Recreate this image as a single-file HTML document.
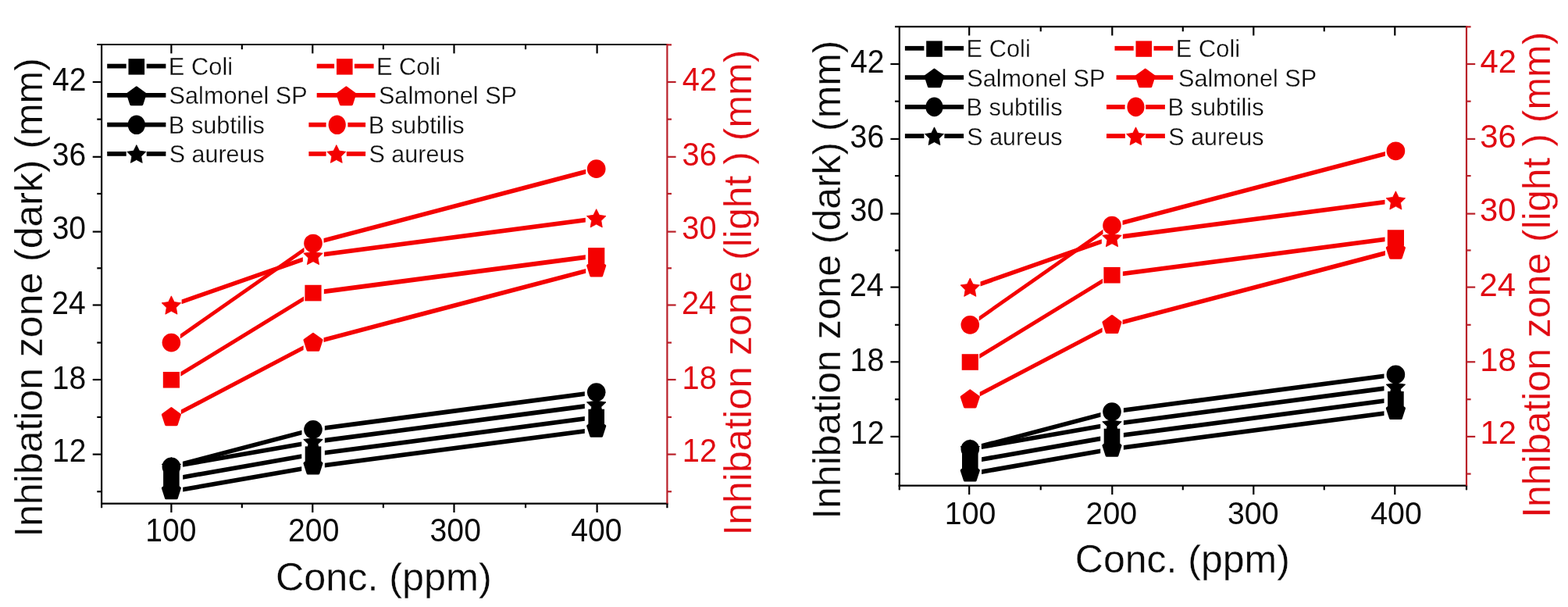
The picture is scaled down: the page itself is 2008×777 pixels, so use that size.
<!DOCTYPE html>
<html lang="en">
<head>
<meta charset="utf-8">
<title>Inhibation zone vs Conc. (ppm)</title>
<style>
html,body{margin:0;padding:0;background:#fff;}
body{width:2008px;height:777px;overflow:hidden;}
svg{display:block;font-family:"Liberation Sans",sans-serif;}
text{stroke:#fff;stroke-width:0.3px;paint-order:fill stroke;}
text.t{stroke:none;}
</style>
</head>
<body>
<svg width="2008" height="777" viewBox="0 0 2008 777">
<rect width="2008" height="777" fill="#ffffff"/>
<g>
<g stroke="#000000" stroke-width="2.2" fill="none">
<line x1="130.1" y1="55.9" x2="130.1" y2="645.7"/>
<line x1="124.3" y1="57" x2="854.4" y2="57"/>
<line x1="129" y1="644.6" x2="855.5" y2="644.6"/>
<line x1="118.7" y1="581.6" x2="130.1" y2="581.6"/>
<line x1="118.7" y1="486" x2="130.1" y2="486"/>
<line x1="118.7" y1="390.5" x2="130.1" y2="390.5"/>
<line x1="118.7" y1="296.6" x2="130.1" y2="296.6"/>
<line x1="118.7" y1="200.8" x2="130.1" y2="200.8"/>
<line x1="118.7" y1="105" x2="130.1" y2="105"/>
<line x1="124.3" y1="629.26" x2="130.1" y2="629.26"/>
<line x1="124.3" y1="533.94" x2="130.1" y2="533.94"/>
<line x1="124.3" y1="438.62" x2="130.1" y2="438.62"/>
<line x1="124.3" y1="343.3" x2="130.1" y2="343.3"/>
<line x1="124.3" y1="247.98" x2="130.1" y2="247.98"/>
<line x1="124.3" y1="152.66" x2="130.1" y2="152.66"/>
<line x1="219.4" y1="644.6" x2="219.4" y2="656"/>
<line x1="219.4" y1="57" x2="219.4" y2="68.4"/>
<line x1="400.3" y1="644.6" x2="400.3" y2="656"/>
<line x1="400.3" y1="57" x2="400.3" y2="68.4"/>
<line x1="581.5" y1="644.6" x2="581.5" y2="656"/>
<line x1="581.5" y1="57" x2="581.5" y2="68.4"/>
<line x1="764.6" y1="644.6" x2="764.6" y2="656"/>
<line x1="764.6" y1="57" x2="764.6" y2="68.4"/>
<line x1="130.1" y1="644.6" x2="130.1" y2="650.2"/>
<line x1="309.85" y1="644.6" x2="309.85" y2="650.2"/>
<line x1="490.9" y1="644.6" x2="490.9" y2="650.2"/>
<line x1="673.05" y1="644.6" x2="673.05" y2="650.2"/>
<line x1="854.4" y1="644.6" x2="854.4" y2="650.2"/>
<line x1="309.85" y1="57" x2="309.85" y2="63.2"/>
<line x1="490.9" y1="57" x2="490.9" y2="63.2"/>
<line x1="673.05" y1="57" x2="673.05" y2="63.2"/>
</g>
<g stroke="#b92029" stroke-width="2.2" fill="none">
<line x1="854.4" y1="55.9" x2="854.4" y2="644.6"/>
<line x1="854.4" y1="581.6" x2="865.6" y2="581.6"/>
<line x1="854.4" y1="486" x2="865.6" y2="486"/>
<line x1="854.4" y1="390.5" x2="865.6" y2="390.5"/>
<line x1="854.4" y1="296.6" x2="865.6" y2="296.6"/>
<line x1="854.4" y1="200.8" x2="865.6" y2="200.8"/>
<line x1="854.4" y1="105" x2="865.6" y2="105"/>
<line x1="854.4" y1="629.26" x2="860" y2="629.26"/>
<line x1="854.4" y1="533.94" x2="860" y2="533.94"/>
<line x1="854.4" y1="438.62" x2="860" y2="438.62"/>
<line x1="854.4" y1="343.3" x2="860" y2="343.3"/>
<line x1="854.4" y1="247.98" x2="860" y2="247.98"/>
<line x1="854.4" y1="152.66" x2="860" y2="152.66"/>
<line x1="854.4" y1="57.34" x2="860" y2="57.34"/>
</g>
<text class="t" transform="translate(67.12,591.2) scale(0.9361,1)" font-size="41.6" fill="#0a0a0a">12</text>
<text class="t" transform="translate(873.8,591.2) scale(0.9569,1)" font-size="41.6" fill="#e00a12">12</text>
<text class="t" transform="translate(66.83,497.7) scale(0.9361,1)" font-size="41.6" fill="#0a0a0a">18</text>
<text class="t" transform="translate(873.51,497.7) scale(0.9569,1)" font-size="41.6" fill="#e00a12">18</text>
<text class="t" transform="translate(66.25,401.7) scale(0.9361,1)" font-size="41.6" fill="#0a0a0a">24</text>
<text class="t" transform="translate(872.91,401.7) scale(0.9569,1)" font-size="41.6" fill="#e00a12">24</text>
<text class="t" transform="translate(66.64,305.5) scale(0.9361,1)" font-size="41.6" fill="#0a0a0a">30</text>
<text class="t" transform="translate(873.31,305.5) scale(0.9569,1)" font-size="41.6" fill="#e00a12">30</text>
<text class="t" transform="translate(66.83,212.3) scale(0.9361,1)" font-size="41.6" fill="#0a0a0a">36</text>
<text class="t" transform="translate(873.51,212.3) scale(0.9569,1)" font-size="41.6" fill="#e00a12">36</text>
<text class="t" transform="translate(67.12,116.2) scale(0.9361,1)" font-size="41.6" fill="#0a0a0a">42</text>
<text class="t" transform="translate(873.8,116.2) scale(0.9569,1)" font-size="41.6" fill="#e00a12">42</text>
<text class="t" transform="translate(186.31,693.4) scale(0.9407,1)" font-size="41.6" fill="#0a0a0a">100</text>
<text class="t" transform="translate(369.11,693.4) scale(0.9407,1)" font-size="41.6" fill="#0a0a0a">200</text>
<text class="t" transform="translate(550.61,693.4) scale(0.9407,1)" font-size="41.6" fill="#0a0a0a">300</text>
<text class="t" transform="translate(731.31,693.4) scale(0.9407,1)" font-size="41.6" fill="#0a0a0a">400</text>
<text transform="translate(352.88,755.9) scale(1.0071,1)" font-size="50" fill="#0a0a0a">Conc. (ppm)</text>
<text transform="translate(54,687.62) rotate(-90) scale(0.9992,1)" font-size="50" fill="#0a0a0a">Inhibation zone (dark) (mm)</text>
<text transform="translate(961.5,685.62) rotate(-90) scale(0.9994,1)" font-size="50" fill="#e00a12">Inhibation zone (light ) (mm)</text>
<polygon points="234.18,607.89 386.22,581.29 386.22,587.09 234.18,613.69" fill="#000000"/>
<polygon points="415.87,576.75 748.83,532.99 748.83,538.79 415.87,582.55" fill="#000000"/>
<polygon points="234.18,623.77 386.22,597.17 386.22,602.97 234.18,629.57" fill="#000000"/>
<polygon points="415.87,592.63 748.83,548.88 748.83,554.68 415.87,598.43" fill="#000000"/>
<polygon points="233.91,590.78 386.49,550.73 386.49,556.53 233.91,596.58" fill="#000000"/>
<polygon points="415.87,544.97 748.83,501.22 748.83,507.02 415.87,550.77" fill="#000000"/>
<polygon points="234.18,592 386.22,565.4 386.22,571.2 234.18,597.8" fill="#000000"/>
<polygon points="415.87,560.86 748.83,517.11 748.83,522.91 415.87,566.66" fill="#000000"/>
<rect x="209.1" y="603.17" width="20.6" height="20.4" fill="#000000"/>
<rect x="390.7" y="571.4" width="20.6" height="20.4" fill="#000000"/>
<rect x="753.4" y="523.74" width="20.6" height="20.4" fill="#000000"/>
<polygon points="219.4,616.86 230.34,624.81 226.16,637.66 212.64,637.66 208.46,624.81" fill="#000000" stroke="#000000" stroke-width="3.2" stroke-linejoin="round"/>
<polygon points="401,585.09 411.94,593.03 407.76,605.89 394.24,605.89 390.06,593.03" fill="#000000" stroke="#000000" stroke-width="3.2" stroke-linejoin="round"/>
<polygon points="763.7,537.43 774.64,545.37 770.46,558.23 756.94,558.23 752.76,545.37" fill="#000000" stroke="#000000" stroke-width="3.2" stroke-linejoin="round"/>
<ellipse cx="219.4" cy="597.49" rx="11.8" ry="11.9" fill="#000000"/>
<ellipse cx="401" cy="549.83" rx="11.8" ry="11.9" fill="#000000"/>
<ellipse cx="763.7" cy="502.17" rx="11.8" ry="11.9" fill="#000000"/>
<polygon points="219.4,585.39 223.19,593.07 231.67,594.3 225.53,600.28 226.98,608.72 219.4,604.74 211.82,608.72 213.27,600.28 207.13,594.3 215.61,593.07" fill="#000000" stroke="#000000" stroke-width="0.8" stroke-linejoin="round"/>
<polygon points="401,553.61 404.79,561.3 413.27,562.53 407.13,568.51 408.58,576.95 401,572.96 393.42,576.95 394.87,568.51 388.73,562.53 397.21,561.3" fill="#000000" stroke="#000000" stroke-width="0.8" stroke-linejoin="round"/>
<polygon points="763.7,505.95 767.49,513.64 775.97,514.87 769.83,520.85 771.28,529.29 763.7,525.3 756.12,529.29 757.57,520.85 751.43,514.87 759.91,513.64" fill="#000000" stroke="#000000" stroke-width="0.8" stroke-linejoin="round"/>
<polygon points="231.34,476.07 389.06,379.48 389.06,385.28 231.34,481.87" fill="#f40000"/>
<polygon points="414.88,370.35 749.82,326.34 749.82,332.14 414.88,376.15" fill="#f40000"/>
<polygon points="231.8,524.53 388.6,442.23 388.6,448.03 231.8,530.33" fill="#f40000"/>
<polygon points="414.54,432.16 750.16,343.96 750.16,349.76 414.54,437.96" fill="#f40000"/>
<polygon points="230.87,427.69 389.53,316.65 389.53,322.45 230.87,433.49" fill="#f40000"/>
<polygon points="414.54,305.07 750.16,216.87 750.16,222.67 414.54,310.87" fill="#f40000"/>
<polygon points="232.61,383.44 387.79,329.14 387.79,334.94 232.61,389.24" fill="#f40000"/>
<polygon points="414.88,322.69 749.82,278.68 749.82,284.48 414.88,328.49" fill="#f40000"/>
<rect x="208.8" y="475.98" width="21.2" height="20.6" fill="#f40000"/>
<rect x="390.4" y="364.77" width="21.2" height="20.6" fill="#f40000"/>
<rect x="753.1" y="317.11" width="21.2" height="20.6" fill="#f40000"/>
<polygon points="219.4,522.74 230.34,530.69 226.16,543.54 212.64,543.54 208.46,530.69" fill="#f40000" stroke="#f40000" stroke-width="3.2" stroke-linejoin="round"/>
<polygon points="401,427.42 411.94,435.37 407.76,448.22 394.24,448.22 390.06,435.37" fill="#f40000" stroke="#f40000" stroke-width="3.2" stroke-linejoin="round"/>
<polygon points="763.7,332.1 774.64,340.05 770.46,352.9 756.94,352.9 752.76,340.05" fill="#f40000" stroke="#f40000" stroke-width="3.2" stroke-linejoin="round"/>
<ellipse cx="219.4" cy="438.62" rx="11.8" ry="11.9" fill="#f40000"/>
<ellipse cx="401" cy="311.53" rx="11.8" ry="11.9" fill="#f40000"/>
<ellipse cx="763.7" cy="216.21" rx="11.8" ry="11.9" fill="#f40000"/>
<polygon points="219.4,378.86 223.19,386.54 231.67,387.77 225.53,393.75 226.98,402.2 219.4,398.21 211.82,402.2 213.27,393.75 207.13,387.77 215.61,386.54" fill="#f40000" stroke="#f40000" stroke-width="0.8" stroke-linejoin="round"/>
<polygon points="401,315.31 404.79,323 413.27,324.23 407.13,330.21 408.58,338.65 401,334.66 393.42,338.65 394.87,330.21 388.73,324.23 397.21,323" fill="#f40000" stroke="#f40000" stroke-width="0.8" stroke-linejoin="round"/>
<polygon points="763.7,267.65 767.49,275.34 775.97,276.57 769.83,282.55 771.28,290.99 763.7,287 756.12,290.99 757.57,282.55 751.43,276.57 759.91,275.34" fill="#f40000" stroke="#f40000" stroke-width="0.8" stroke-linejoin="round"/>
<line x1="137.2" y1="84.6" x2="161.7" y2="84.6" stroke="#000000" stroke-width="5.8"/>
<line x1="187.7" y1="84.6" x2="212.4" y2="84.6" stroke="#000000" stroke-width="5.8"/>
<rect x="164.5" y="75.2" width="20.6" height="20.4" fill="#000000"/>
<text transform="translate(215.86,95.5) scale(0.9573,1)" font-size="32.2" fill="#0a0a0a">E Coli</text>
<line x1="137.2" y1="121.9" x2="212.4" y2="121.9" stroke="#000000" stroke-width="5.8"/>
<polygon points="174.8,112 186.12,120.22 181.79,133.53 167.81,133.53 163.48,120.22" fill="#000000" stroke="#000000" stroke-width="3.2" stroke-linejoin="round"/>
<text transform="translate(216.62,133.3) scale(0.9516,1)" font-size="32.2" fill="#0a0a0a">Salmonel SP</text>
<line x1="137.2" y1="159.7" x2="212.4" y2="159.7" stroke="#000000" stroke-width="5.8"/>
<ellipse cx="174.8" cy="159.7" rx="11.1" ry="12.3" fill="#000000"/>
<text transform="translate(215.86,170.7) scale(0.9545,1)" font-size="32.2" fill="#0a0a0a">B subtilis</text>
<line x1="137.2" y1="196.9" x2="161.7" y2="196.9" stroke="#000000" stroke-width="5.8"/>
<line x1="187.7" y1="196.9" x2="212.4" y2="196.9" stroke="#000000" stroke-width="5.8"/>
<polygon points="174.8,185.6 178.5,193.1 186.78,194.31 180.79,200.15 182.21,208.39 174.8,204.5 167.39,208.39 168.81,200.15 162.82,194.31 171.1,193.1" fill="#000000" stroke="#000000" stroke-width="0.8" stroke-linejoin="round"/>
<text transform="translate(216.63,208.3) scale(0.9477,1)" font-size="32.2" fill="#0a0a0a">S aureus</text>
<line x1="405.7" y1="84.6" x2="428.1" y2="84.6" stroke="#f40000" stroke-width="5.8"/>
<line x1="453.9" y1="84.6" x2="478.6" y2="84.6" stroke="#f40000" stroke-width="5.8"/>
<rect x="431" y="75.2" width="20.6" height="20.4" fill="#f40000"/>
<text transform="translate(481.96,95.5) scale(0.9573,1)" font-size="32.2" fill="#0a0a0a">E Coli</text>
<line x1="405.7" y1="121.9" x2="480.6" y2="121.9" stroke="#f40000" stroke-width="5.8"/>
<polygon points="443.4,112 454.72,120.22 450.39,133.53 436.41,133.53 432.08,120.22" fill="#f40000" stroke="#f40000" stroke-width="3.2" stroke-linejoin="round"/>
<text transform="translate(484.92,133.3) scale(0.9516,1)" font-size="32.2" fill="#0a0a0a">Salmonel SP</text>
<line x1="395.4" y1="159.7" x2="417.6" y2="159.7" stroke="#f40000" stroke-width="5.8"/>
<line x1="445.4" y1="159.7" x2="468.1" y2="159.7" stroke="#f40000" stroke-width="5.8"/>
<ellipse cx="431.7" cy="159.7" rx="11.1" ry="12.3" fill="#f40000"/>
<text transform="translate(471.66,170.7) scale(0.9545,1)" font-size="32.2" fill="#0a0a0a">B subtilis</text>
<line x1="395.4" y1="196.9" x2="417.6" y2="196.9" stroke="#f40000" stroke-width="5.8"/>
<line x1="443.8" y1="196.9" x2="468.1" y2="196.9" stroke="#f40000" stroke-width="5.8"/>
<polygon points="430.8,185.6 434.5,193.1 442.78,194.31 436.79,200.15 438.21,208.39 430.8,204.5 423.39,208.39 424.81,200.15 418.82,194.31 427.1,193.1" fill="#f40000" stroke="#f40000" stroke-width="0.8" stroke-linejoin="round"/>
<text transform="translate(472.53,208.3) scale(0.9477,1)" font-size="32.2" fill="#0a0a0a">S aureus</text>
</g>
<g>
<g stroke="#000000" stroke-width="2.2" fill="none">
<line x1="1151.8" y1="33" x2="1151.8" y2="622.8"/>
<line x1="1146" y1="34.1" x2="1878" y2="34.1"/>
<line x1="1150.7" y1="621.7" x2="1879.1" y2="621.7"/>
<line x1="1140.4" y1="558.9" x2="1151.8" y2="558.9"/>
<line x1="1140.4" y1="463.3" x2="1151.8" y2="463.3"/>
<line x1="1140.4" y1="367.6" x2="1151.8" y2="367.6"/>
<line x1="1140.4" y1="273.6" x2="1151.8" y2="273.6"/>
<line x1="1140.4" y1="177.9" x2="1151.8" y2="177.9"/>
<line x1="1140.4" y1="82" x2="1151.8" y2="82"/>
<line x1="1146" y1="606.59" x2="1151.8" y2="606.59"/>
<line x1="1146" y1="511.21" x2="1151.8" y2="511.21"/>
<line x1="1146" y1="415.83" x2="1151.8" y2="415.83"/>
<line x1="1146" y1="320.45" x2="1151.8" y2="320.45"/>
<line x1="1146" y1="225.07" x2="1151.8" y2="225.07"/>
<line x1="1146" y1="129.69" x2="1151.8" y2="129.69"/>
<line x1="1241.2" y1="621.7" x2="1241.2" y2="633.1"/>
<line x1="1241.2" y1="34.1" x2="1241.2" y2="45.5"/>
<line x1="1424.3" y1="621.7" x2="1424.3" y2="633.1"/>
<line x1="1424.3" y1="34.1" x2="1424.3" y2="45.5"/>
<line x1="1605.3" y1="621.7" x2="1605.3" y2="633.1"/>
<line x1="1605.3" y1="34.1" x2="1605.3" y2="45.5"/>
<line x1="1786.3" y1="621.7" x2="1786.3" y2="633.1"/>
<line x1="1786.3" y1="34.1" x2="1786.3" y2="45.5"/>
<line x1="1151.8" y1="621.7" x2="1151.8" y2="627.3"/>
<line x1="1332.75" y1="621.7" x2="1332.75" y2="627.3"/>
<line x1="1514.8" y1="621.7" x2="1514.8" y2="627.3"/>
<line x1="1695.8" y1="621.7" x2="1695.8" y2="627.3"/>
<line x1="1878" y1="621.7" x2="1878" y2="627.3"/>
<line x1="1332.75" y1="34.1" x2="1332.75" y2="40.3"/>
<line x1="1514.8" y1="34.1" x2="1514.8" y2="40.3"/>
<line x1="1695.8" y1="34.1" x2="1695.8" y2="40.3"/>
</g>
<g stroke="#b92029" stroke-width="2.2" fill="none">
<line x1="1878" y1="33" x2="1878" y2="621.7"/>
<line x1="1878" y1="558.9" x2="1889.2" y2="558.9"/>
<line x1="1878" y1="463.3" x2="1889.2" y2="463.3"/>
<line x1="1878" y1="367.6" x2="1889.2" y2="367.6"/>
<line x1="1878" y1="273.6" x2="1889.2" y2="273.6"/>
<line x1="1878" y1="177.9" x2="1889.2" y2="177.9"/>
<line x1="1878" y1="82" x2="1889.2" y2="82"/>
<line x1="1878" y1="606.59" x2="1883.6" y2="606.59"/>
<line x1="1878" y1="511.21" x2="1883.6" y2="511.21"/>
<line x1="1878" y1="415.83" x2="1883.6" y2="415.83"/>
<line x1="1878" y1="320.45" x2="1883.6" y2="320.45"/>
<line x1="1878" y1="225.07" x2="1883.6" y2="225.07"/>
<line x1="1878" y1="129.69" x2="1883.6" y2="129.69"/>
<line x1="1878" y1="34.31" x2="1883.6" y2="34.31"/>
</g>
<text class="t" transform="translate(1088.92,568.3) scale(0.9430,1)" font-size="41.6" fill="#0a0a0a">12</text>
<text class="t" transform="translate(1895.46,568.3) scale(1.0056,1)" font-size="41.6" fill="#e00a12">12</text>
<text class="t" transform="translate(1088.62,474.7) scale(0.9430,1)" font-size="41.6" fill="#0a0a0a">18</text>
<text class="t" transform="translate(1895.15,474.7) scale(1.0056,1)" font-size="41.6" fill="#e00a12">18</text>
<text class="t" transform="translate(1088.03,378.8) scale(0.9430,1)" font-size="41.6" fill="#0a0a0a">24</text>
<text class="t" transform="translate(1894.52,378.8) scale(1.0056,1)" font-size="41.6" fill="#e00a12">24</text>
<text class="t" transform="translate(1088.43,283.2) scale(0.9430,1)" font-size="41.6" fill="#0a0a0a">30</text>
<text class="t" transform="translate(1894.94,283.2) scale(1.0056,1)" font-size="41.6" fill="#e00a12">30</text>
<text class="t" transform="translate(1088.62,189) scale(0.9430,1)" font-size="41.6" fill="#0a0a0a">36</text>
<text class="t" transform="translate(1895.15,189) scale(1.0056,1)" font-size="41.6" fill="#e00a12">36</text>
<text class="t" transform="translate(1088.92,93.4) scale(0.9430,1)" font-size="41.6" fill="#0a0a0a">42</text>
<text class="t" transform="translate(1895.46,93.4) scale(1.0056,1)" font-size="41.6" fill="#e00a12">42</text>
<text class="t" transform="translate(1209.8,670.6) scale(0.9453,1)" font-size="41.6" fill="#0a0a0a">100</text>
<text class="t" transform="translate(1390.6,670.6) scale(0.9453,1)" font-size="41.6" fill="#0a0a0a">200</text>
<text class="t" transform="translate(1571.9,670.6) scale(0.9453,1)" font-size="41.6" fill="#0a0a0a">300</text>
<text class="t" transform="translate(1755.2,670.6) scale(0.9453,1)" font-size="41.6" fill="#0a0a0a">400</text>
<text transform="translate(1376.8,733.2) scale(1.0000,1)" font-size="50" fill="#0a0a0a">Conc. (ppm)</text>
<text transform="translate(1075.8,664.62) rotate(-90) scale(0.9985,1)" font-size="50" fill="#0a0a0a">Inhibation zone (dark) (mm)</text>
<text transform="translate(1985,662.82) rotate(-90) scale(0.9997,1)" font-size="50" fill="#e00a12">Inhibation zone (light ) (mm)</text>
<polygon points="1257.08,585.21 1409.22,558.59 1409.22,564.39 1257.08,591.01" fill="#000000"/>
<polygon points="1438.87,554.05 1772.53,510.26 1772.53,516.06 1438.87,559.85" fill="#000000"/>
<polygon points="1257.08,601.1 1409.22,574.48 1409.22,580.28 1257.08,606.9" fill="#000000"/>
<polygon points="1438.87,569.94 1772.53,526.16 1772.53,531.96 1438.87,575.74" fill="#000000"/>
<polygon points="1256.81,568.09 1409.49,528.01 1409.49,533.81 1256.81,573.89" fill="#000000"/>
<polygon points="1438.87,522.25 1772.53,478.47 1772.53,484.27 1438.87,528.05" fill="#000000"/>
<polygon points="1257.08,569.31 1409.22,542.69 1409.22,548.49 1257.08,575.11" fill="#000000"/>
<polygon points="1438.87,538.15 1772.53,494.37 1772.53,500.17 1438.87,543.95" fill="#000000"/>
<rect x="1232" y="580.49" width="20.6" height="20.4" fill="#000000"/>
<rect x="1413.7" y="548.7" width="20.6" height="20.4" fill="#000000"/>
<rect x="1777.1" y="501.01" width="20.6" height="20.4" fill="#000000"/>
<polygon points="1242.3,594.19 1253.24,602.14 1249.06,614.99 1235.54,614.99 1231.36,602.14" fill="#000000" stroke="#000000" stroke-width="3.2" stroke-linejoin="round"/>
<polygon points="1424,562.4 1434.94,570.34 1430.76,583.2 1417.24,583.2 1413.06,570.34" fill="#000000" stroke="#000000" stroke-width="3.2" stroke-linejoin="round"/>
<polygon points="1787.4,514.71 1798.34,522.65 1794.16,535.51 1780.64,535.51 1776.46,522.65" fill="#000000" stroke="#000000" stroke-width="3.2" stroke-linejoin="round"/>
<ellipse cx="1242.3" cy="574.8" rx="11.8" ry="11.9" fill="#000000"/>
<ellipse cx="1424" cy="527.11" rx="11.8" ry="11.9" fill="#000000"/>
<ellipse cx="1787.4" cy="479.42" rx="11.8" ry="11.9" fill="#000000"/>
<polygon points="1242.3,562.7 1246.09,570.38 1254.57,571.61 1248.43,577.59 1249.88,586.03 1242.3,582.05 1234.72,586.03 1236.17,577.59 1230.03,571.61 1238.51,570.38" fill="#000000" stroke="#000000" stroke-width="0.8" stroke-linejoin="round"/>
<polygon points="1424,530.9 1427.79,538.59 1436.27,539.82 1430.13,545.8 1431.58,554.24 1424,550.25 1416.42,554.24 1417.87,545.8 1411.73,539.82 1420.21,538.59" fill="#000000" stroke="#000000" stroke-width="0.8" stroke-linejoin="round"/>
<polygon points="1787.4,483.21 1791.19,490.9 1799.67,492.13 1793.53,498.11 1794.98,506.55 1787.4,502.56 1779.82,506.55 1781.27,498.11 1775.13,492.13 1783.61,490.9" fill="#000000" stroke="#000000" stroke-width="0.8" stroke-linejoin="round"/>
<polygon points="1254.24,453.31 1412.06,356.66 1412.06,362.46 1254.24,459.11" fill="#f40000"/>
<polygon points="1437.88,347.52 1773.52,303.47 1773.52,309.27 1437.88,353.32" fill="#f40000"/>
<polygon points="1254.7,501.8 1411.6,419.44 1411.6,425.24 1254.7,507.6" fill="#f40000"/>
<polygon points="1437.54,409.38 1773.86,321.1 1773.86,326.9 1437.54,415.18" fill="#f40000"/>
<polygon points="1253.77,404.9 1412.53,293.78 1412.53,299.58 1253.77,410.7" fill="#f40000"/>
<polygon points="1437.54,282.2 1773.86,193.93 1773.86,199.73 1437.54,288" fill="#f40000"/>
<polygon points="1255.51,360.62 1410.79,306.28 1410.79,312.08 1255.51,366.42" fill="#f40000"/>
<polygon points="1437.88,299.83 1773.52,255.78 1773.52,261.58 1437.88,305.63" fill="#f40000"/>
<rect x="1231.7" y="453.22" width="21.2" height="20.6" fill="#f40000"/>
<rect x="1413.4" y="341.94" width="21.2" height="20.6" fill="#f40000"/>
<rect x="1776.8" y="294.25" width="21.2" height="20.6" fill="#f40000"/>
<polygon points="1242.3,500.01 1253.24,507.96 1249.06,520.81 1235.54,520.81 1231.36,507.96" fill="#f40000" stroke="#f40000" stroke-width="3.2" stroke-linejoin="round"/>
<polygon points="1424,404.63 1434.94,412.58 1430.76,425.43 1417.24,425.43 1413.06,412.58" fill="#f40000" stroke="#f40000" stroke-width="3.2" stroke-linejoin="round"/>
<polygon points="1787.4,309.25 1798.34,317.2 1794.16,330.05 1780.64,330.05 1776.46,317.2" fill="#f40000" stroke="#f40000" stroke-width="3.2" stroke-linejoin="round"/>
<ellipse cx="1242.3" cy="415.83" rx="11.8" ry="11.9" fill="#f40000"/>
<ellipse cx="1424" cy="288.66" rx="11.8" ry="11.9" fill="#f40000"/>
<ellipse cx="1787.4" cy="193.28" rx="11.8" ry="11.9" fill="#f40000"/>
<polygon points="1242.3,356.04 1246.09,363.72 1254.57,364.95 1248.43,370.93 1249.88,379.38 1242.3,375.39 1234.72,379.38 1236.17,370.93 1230.03,364.95 1238.51,363.72" fill="#f40000" stroke="#f40000" stroke-width="0.8" stroke-linejoin="round"/>
<polygon points="1424,292.45 1427.79,300.14 1436.27,301.37 1430.13,307.35 1431.58,315.79 1424,311.8 1416.42,315.79 1417.87,307.35 1411.73,301.37 1420.21,300.14" fill="#f40000" stroke="#f40000" stroke-width="0.8" stroke-linejoin="round"/>
<polygon points="1787.4,244.76 1791.19,252.45 1799.67,253.68 1793.53,259.66 1794.98,268.1 1787.4,264.11 1779.82,268.1 1781.27,259.66 1775.13,253.68 1783.61,252.45" fill="#f40000" stroke="#f40000" stroke-width="0.8" stroke-linejoin="round"/>
<line x1="1158.9" y1="61.8" x2="1183.4" y2="61.8" stroke="#000000" stroke-width="5.8"/>
<line x1="1209.4" y1="61.8" x2="1234.1" y2="61.8" stroke="#000000" stroke-width="5.8"/>
<rect x="1186.2" y="52.4" width="20.6" height="20.4" fill="#000000"/>
<text transform="translate(1237.56,72.7) scale(0.9573,1)" font-size="32.2" fill="#0a0a0a">E Coli</text>
<line x1="1158.9" y1="99.1" x2="1234.1" y2="99.1" stroke="#000000" stroke-width="5.8"/>
<polygon points="1196.5,89.2 1207.82,97.42 1203.49,110.73 1189.51,110.73 1185.18,97.42" fill="#000000" stroke="#000000" stroke-width="3.2" stroke-linejoin="round"/>
<text transform="translate(1238.32,110.5) scale(0.9516,1)" font-size="32.2" fill="#0a0a0a">Salmonel SP</text>
<line x1="1158.9" y1="136.9" x2="1234.1" y2="136.9" stroke="#000000" stroke-width="5.8"/>
<ellipse cx="1196.5" cy="136.9" rx="11.1" ry="12.3" fill="#000000"/>
<text transform="translate(1237.56,147.9) scale(0.9545,1)" font-size="32.2" fill="#0a0a0a">B subtilis</text>
<line x1="1158.9" y1="174.1" x2="1183.4" y2="174.1" stroke="#000000" stroke-width="5.8"/>
<line x1="1209.4" y1="174.1" x2="1234.1" y2="174.1" stroke="#000000" stroke-width="5.8"/>
<polygon points="1196.5,162.8 1200.2,170.3 1208.48,171.51 1202.49,177.35 1203.91,185.59 1196.5,181.7 1189.09,185.59 1190.51,177.35 1184.52,171.51 1192.8,170.3" fill="#000000" stroke="#000000" stroke-width="0.8" stroke-linejoin="round"/>
<text transform="translate(1238.33,185.5) scale(0.9477,1)" font-size="32.2" fill="#0a0a0a">S aureus</text>
<line x1="1427.5" y1="61.8" x2="1451.7" y2="61.8" stroke="#f40000" stroke-width="5.8"/>
<line x1="1477.5" y1="61.8" x2="1502.2" y2="61.8" stroke="#f40000" stroke-width="5.8"/>
<rect x="1454.5" y="52.4" width="20.6" height="20.4" fill="#f40000"/>
<text transform="translate(1505.86,72.7) scale(0.9573,1)" font-size="32.2" fill="#0a0a0a">E Coli</text>
<line x1="1429.6" y1="99.1" x2="1502.2" y2="99.1" stroke="#f40000" stroke-width="5.8"/>
<polygon points="1466.7,89.2 1478.02,97.42 1473.69,110.73 1459.71,110.73 1455.38,97.42" fill="#f40000" stroke="#f40000" stroke-width="3.2" stroke-linejoin="round"/>
<text transform="translate(1509.02,110.5) scale(0.9516,1)" font-size="32.2" fill="#0a0a0a">Salmonel SP</text>
<line x1="1417" y1="136.9" x2="1440.6" y2="136.9" stroke="#f40000" stroke-width="5.8"/>
<line x1="1467.2" y1="136.9" x2="1491.9" y2="136.9" stroke="#f40000" stroke-width="5.8"/>
<ellipse cx="1454.5" cy="136.9" rx="11.1" ry="12.3" fill="#f40000"/>
<text transform="translate(1495.56,147.9) scale(0.9545,1)" font-size="32.2" fill="#0a0a0a">B subtilis</text>
<line x1="1417" y1="174.1" x2="1440.9" y2="174.1" stroke="#f40000" stroke-width="5.8"/>
<line x1="1467.2" y1="174.1" x2="1491.9" y2="174.1" stroke="#f40000" stroke-width="5.8"/>
<polygon points="1454.5,162.8 1458.2,170.3 1466.48,171.51 1460.49,177.35 1461.91,185.59 1454.5,181.7 1447.09,185.59 1448.51,177.35 1442.52,171.51 1450.8,170.3" fill="#f40000" stroke="#f40000" stroke-width="0.8" stroke-linejoin="round"/>
<text transform="translate(1496.33,185.5) scale(0.9477,1)" font-size="32.2" fill="#0a0a0a">S aureus</text>
</g>
</svg>
</body>
</html>
